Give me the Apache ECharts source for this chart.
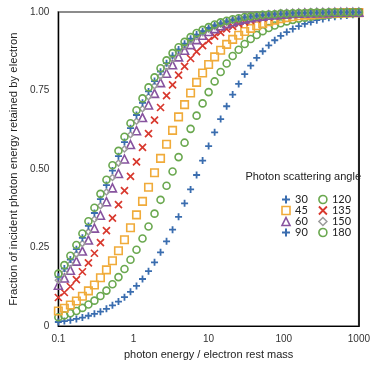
<!DOCTYPE html>
<html>
<head>
<meta charset="utf-8">
<script src="https://cdn.jsdelivr.net/npm/echarts@6/dist/echarts.min.js"></script>
<style>html,body{margin:0;padding:0;background:#fff}#c{width:373px;height:365px}</style>
</head>
<body>
<div id="c"></div>
<script>
var xValues = [0.1,0.1202,0.1445,0.1738,0.2089,0.2512,0.302,0.3631,0.4365,0.5248,0.631,0.7586,0.912,1.0965,1.3183,1.5849,1.9055,2.2909,2.7542,3.3113,3.9811,4.7863,5.7544,6.9183,8.3176,10,12.023,14.454,17.378,20.893,25.119,30.2,36.308,43.652,52.481,63.096,75.858,91.201,109.65,131.83,158.49,190.55,229.09,275.42,331.13,398.11,478.63,575.44,691.83,831.76,1000];
var a30 = [0.013,0.016,0.019,0.023,0.027,0.033,0.039,0.046,0.055,0.066,0.078,0.092,0.109,0.128,0.150,0.175,0.203,0.235,0.270,0.307,0.348,0.391,0.435,0.481,0.527,0.573,0.617,0.659,0.700,0.737,0.771,0.802,0.829,0.854,0.875,0.894,0.910,0.924,0.936,0.946,0.955,0.962,0.968,0.974,0.978,0.982,0.985,0.987,0.989,0.991,0.993];
var a45 = [0.028,0.034,0.041,0.048,0.058,0.069,0.081,0.096,0.113,0.133,0.156,0.182,0.211,0.243,0.279,0.317,0.358,0.402,0.447,0.492,0.538,0.584,0.628,0.670,0.709,0.745,0.779,0.809,0.836,0.860,0.880,0.898,0.914,0.927,0.939,0.949,0.957,0.964,0.970,0.975,0.979,0.982,0.985,0.988,0.990,0.991,0.993,0.994,0.995,0.996,0.997];
var a60 = [0.048,0.057,0.067,0.080,0.095,0.112,0.131,0.154,0.179,0.208,0.240,0.275,0.313,0.354,0.397,0.442,0.488,0.534,0.579,0.623,0.666,0.705,0.742,0.776,0.806,0.833,0.857,0.878,0.897,0.913,0.926,0.938,0.948,0.956,0.963,0.969,0.974,0.979,0.982,0.985,0.988,0.990,0.991,0.993,0.994,0.995,0.996,0.997,0.997,0.998,0.998];
var a90 = [0.091,0.107,0.126,0.148,0.173,0.201,0.232,0.266,0.304,0.344,0.387,0.431,0.477,0.523,0.569,0.613,0.656,0.696,0.734,0.768,0.799,0.827,0.852,0.874,0.893,0.909,0.923,0.935,0.946,0.954,0.962,0.968,0.973,0.978,0.981,0.984,0.987,0.989,0.991,0.992,0.994,0.995,0.996,0.996,0.997,0.997,0.998,0.998,0.999,0.999,0.999];
var a120 = [0.130,0.153,0.178,0.207,0.239,0.274,0.312,0.353,0.396,0.440,0.486,0.532,0.578,0.622,0.664,0.704,0.741,0.775,0.805,0.832,0.857,0.878,0.896,0.912,0.926,0.938,0.947,0.956,0.963,0.969,0.974,0.978,0.982,0.985,0.987,0.990,0.991,0.993,0.994,0.995,0.996,0.997,0.997,0.998,0.998,0.998,0.999,0.999,0.999,0.999,0.999];
var a135 = [0.146,0.170,0.198,0.229,0.263,0.300,0.340,0.383,0.427,0.473,0.519,0.564,0.609,0.652,0.692,0.730,0.765,0.796,0.825,0.850,0.872,0.891,0.908,0.922,0.934,0.945,0.954,0.961,0.967,0.973,0.977,0.981,0.984,0.987,0.989,0.991,0.992,0.994,0.995,0.996,0.996,0.997,0.997,0.998,0.998,0.999,0.999,0.999,0.999,0.999,0.999];
var a150 = [0.157,0.183,0.212,0.245,0.281,0.319,0.360,0.404,0.449,0.495,0.541,0.586,0.630,0.672,0.711,0.747,0.780,0.810,0.837,0.861,0.881,0.899,0.915,0.928,0.939,0.949,0.957,0.964,0.970,0.975,0.979,0.983,0.985,0.988,0.990,0.992,0.993,0.994,0.995,0.996,0.997,0.997,0.998,0.998,0.998,0.999,0.999,0.999,0.999,0.999,0.999];
var a180 = [0.167,0.194,0.224,0.258,0.295,0.334,0.377,0.421,0.466,0.512,0.558,0.603,0.646,0.687,0.725,0.760,0.792,0.821,0.846,0.869,0.888,0.905,0.920,0.933,0.943,0.952,0.960,0.967,0.972,0.977,0.980,0.984,0.986,0.989,0.991,0.992,0.993,0.995,0.995,0.996,0.997,0.997,0.998,0.998,0.998,0.999,0.999,0.999,0.999,0.999,1.000];
var angleNames = ['30','45','60','90','120','135','150','180'];
var yTicks = ['0','0.25','0.50','0.75','1.00'];

var BLUE='#3a6daf', GREEN='#6aa84f', ORANGE='#f0ab3a', RED='#d8392e', PURPLE='#87539f', GREY='#9b9b9b';
var PLUS='path://M5,0L5,10M0,5L10,5';
var CROSS='path://M0,0L10,10M10,0L0,10';

function pts(arr){ return arr.map(function(v,i){ return [xValues[i], v]; }); }
function ser(name, arr, symbol, size, color, bw){
  return {type:'scatter', name:name, data:pts(arr), symbol:symbol, symbolSize:size,
    itemStyle:{color:'rgba(0,0,0,0)', borderColor:color, borderWidth:bw, opacity:1},
    emphasis:{disabled:true}, animation:false};
}
var series = [
  ser(angleNames[0], a30, PLUS, 7, BLUE, 1.8),
  ser(angleNames[1], a45, 'circle', 7, GREEN, 1.6),
  ser(angleNames[2], a60, 'rect', 7.5, ORANGE, 1.6),
  ser(angleNames[3], a90, CROSS, 7, RED, 1.7),
  ser(angleNames[4], a120, 'triangle', 8, PURPLE, 1.6),
  ser(angleNames[5], a135, 'diamond', 6, GREY, 1.5),
  ser(angleNames[6], a150, PLUS, 7, BLUE, 1.8),
  ser(angleNames[7], a180, 'circle', 7, GREEN, 1.6)
];
function li(name, icon, color, bw){
  return {name:name, icon:icon, itemStyle:{color:'rgba(0,0,0,0)', borderColor:color, borderWidth:bw}};
}
var legStyle = {fontFamily:'Lato', fontSize:11, color:'#222', lineHeight:11};
var chart = echarts.init(document.getElementById('c'), null, {renderer:'canvas'});
chart.setOption({
  animation:false,
  backgroundColor:'#fff',
  grid:{left:55, right:11, top:12, bottom:38, show:true, borderColor:'#8c8c8c', borderWidth:2},
  xAxis:{type:'log', logBase:10, min:0.1, max:1000,
    name:'photon energy / electron rest mass', nameLocation:'middle', nameGap:22,
    nameTextStyle:{fontFamily:'Liberation Sans', fontSize:11, color:'#222'},
    axisLine:{show:true, lineStyle:{color:'#000', width:1.2}}, axisTick:{show:false},
    splitLine:{show:false}, minorTick:{show:false},
    axisLabel:{fontFamily:'Liberation Sans', fontSize:10, color:'#333', margin:8,
      formatter:function(v){ return String(+v.toPrecision(3)); }}},
  yAxis:[{type:'value', min:0, max:1, interval:0.25,
    name:'Fraction of incident photon energy retained by electron', nameLocation:'middle', nameGap:37,
    nameTextStyle:{fontFamily:'Liberation Sans', fontSize:11.3, color:'#222'},
    axisLine:{show:true, lineStyle:{color:'#000', width:1.2}}, axisTick:{show:false},
    splitLine:{show:false},
    axisLabel:{fontFamily:'Liberation Sans', fontSize:10, color:'#333', margin:9,
      formatter:function(v){ return yTicks[Math.round(v/0.25)]; }}},
    {type:'value', min:0, max:1, position:'right', axisLine:{show:true, lineStyle:{color:'#222', width:2}},
     axisTick:{show:false}, axisLabel:{show:false}, splitLine:{show:false}}],
  graphic:[{type:'text', right:12, top:171,
    style:{text:'Photon scattering angle', fontFamily:'Liberation Sans', fontSize:11, fill:'#222'}}],
  legend:[
    {orient:'vertical', left:276, top:189, itemWidth:8, itemHeight:8, itemGap:0, textStyle:legStyle,
     selectedMode:false,
     data:[li('30',PLUS,BLUE,2), li('45','rect',ORANGE,1.6), li('60','triangle',PURPLE,1.6), li('90',PLUS,BLUE,2)]},
    {orient:'vertical', left:313, top:189, itemWidth:8, itemHeight:8, itemGap:0, textStyle:legStyle,
     selectedMode:false,
     data:[li('120','circle',GREEN,1.6), li('135',CROSS,RED,1.8), li('150','diamond',GREY,1.5), li('180','circle',GREEN,1.6)]}
  ],
  series:series
});
</script>
</body>
</html>
